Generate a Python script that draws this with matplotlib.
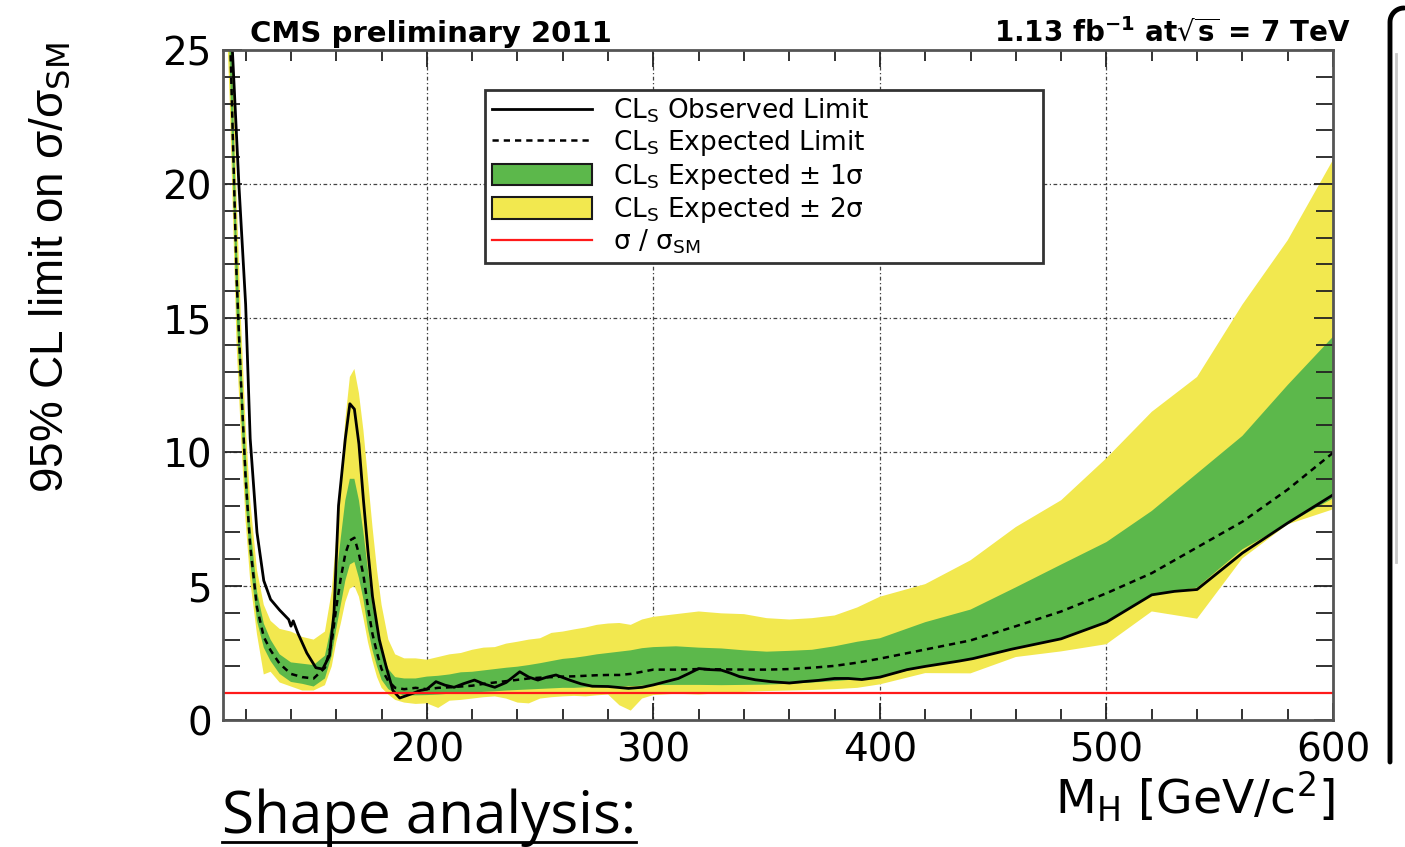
import numpy as np
import matplotlib.pyplot as plt
from matplotlib.lines import Line2D
from matplotlib.patches import Patch

# Higgs mass points (GeV) for the expected limit and its bands
mass = [110, 113, 116, 118, 120, 122, 125, 128, 131, 135, 140, 145, 150, 155, 158,
        160, 162, 164, 166, 168, 170, 172, 174, 176, 178, 180, 183, 186, 190, 195,
        200, 205, 210, 215, 220, 225, 230, 235, 240, 245, 250, 255, 260, 265, 270,
        275, 280, 285, 290, 295, 300, 310, 320, 330, 340, 350, 360, 370, 380, 390,
        400, 420, 440, 460, 480, 500, 520, 540, 560, 580, 600]

expected = [34, 26, 16.5, 12.5, 9.0, 6.5, 4.2, 3.1, 2.6, 2.1, 1.72, 1.6, 1.55, 1.95, 2.9,
            4.2, 5.3, 6.2, 6.7, 6.8, 6.2, 5.4, 4.2, 3.2, 2.5, 1.9, 1.45, 1.2, 1.15, 1.2,
            1.15, 1.2, 1.22, 1.25, 1.28, 1.35, 1.4, 1.45, 1.5, 1.55, 1.58, 1.6, 1.62, 1.63, 1.65,
            1.67, 1.68, 1.68, 1.72, 1.8, 1.88, 1.88, 1.9, 1.89, 1.88, 1.88, 1.9, 1.95, 2.02, 2.14,
            2.29, 2.63, 2.97, 3.5, 4.05, 4.73, 5.48, 6.44, 7.4, 8.6, 9.97]

one_sig_hi = [36, 28, 18, 13.5, 10, 7.3, 4.8, 3.6, 3.0, 2.45, 2.15, 2.1, 2.05, 2.4, 3.6,
              5.3, 6.8, 8.2, 9.0, 9.0, 8.2, 7.0, 5.6, 4.3, 3.4, 2.6, 1.9, 1.6, 1.55, 1.55,
              1.62, 1.65, 1.7, 1.78, 1.8, 1.85, 1.9, 1.95, 1.99, 2.05, 2.12, 2.2, 2.28, 2.32, 2.38,
              2.45, 2.5, 2.55, 2.6, 2.68, 2.72, 2.75, 2.7, 2.67, 2.6, 2.55, 2.58, 2.62, 2.75, 2.92,
              3.05, 3.65, 4.12, 4.95, 5.8, 6.64, 7.8, 9.2, 10.6, 12.5, 14.3]

one_sig_lo = [32, 24.5, 15.2, 11.5, 8.2, 5.9, 3.7, 2.7, 2.2, 1.72, 1.42, 1.35, 1.25, 1.55, 2.4,
              3.4, 4.3, 5.2, 5.8, 5.9, 5.3, 4.5, 3.4, 2.6, 2.0, 1.5, 1.15, 1.0, 0.92, 0.92,
              0.93, 0.95, 0.98, 1.0, 1.02, 1.05, 1.07, 1.1, 1.12, 1.14, 1.16, 1.18, 1.2, 1.2, 1.22,
              1.23, 1.24, 1.24, 1.26, 1.28, 1.3, 1.31, 1.31, 1.3, 1.31, 1.32, 1.35, 1.4, 1.45, 1.52,
              1.6, 2.0, 2.29, 2.69, 3.03, 3.65, 4.67, 4.94, 6.37, 7.32, 8.27]

two_sig_hi = [38, 30, 19.5, 14.8, 11, 8.2, 5.6, 4.3, 3.7, 3.4, 3.3, 3.1, 3.0, 3.3, 4.8,
              6.8, 9.0, 11.2, 12.8, 13.1, 12.2, 10.8, 9.0, 7.2, 5.6, 4.3, 3.0, 2.45, 2.3, 2.3,
              2.25, 2.35, 2.45, 2.5, 2.62, 2.7, 2.72, 2.85, 2.92, 3.0, 3.05, 3.25, 3.3, 3.38, 3.45,
              3.55, 3.6, 3.62, 3.55, 3.75, 3.85, 3.95, 4.05, 3.98, 3.95, 3.8, 3.75, 3.8, 3.9, 4.2,
              4.6, 5.07, 5.96, 7.2, 8.2, 9.77, 11.5, 12.8, 15.5, 17.9, 20.9]

two_sig_lo = [30, 23, 14, 10.5, 7.4, 5.2, 3.2, 1.7, 1.8, 1.4, 1.25, 1.1, 1.1, 1.3, 2.0,
              2.9, 3.6, 4.4, 4.9, 5.0, 4.6, 3.8, 2.9, 2.2, 1.6, 1.2, 0.95, 0.75, 0.65, 0.6,
              0.62, 0.45, 0.72, 0.75, 0.8, 0.85, 0.88, 0.8, 0.65, 0.62, 0.8, 0.85, 0.88, 0.9, 0.88,
              0.92, 0.95, 0.55, 0.35, 0.8, 0.93, 0.98, 0.95, 1.0, 1.05, 1.08, 1.1, 1.12, 1.15, 1.2,
              1.33, 1.75, 1.74, 2.35, 2.56, 2.83, 4.05, 3.78, 6.03, 7.3, 7.86]

# observed limit
mass_obs = [110, 113, 115, 117, 120, 122, 125, 128, 131, 135, 139, 140, 141, 143, 147,
            151, 154, 157, 159, 161, 164, 166, 168, 170, 172, 174, 176, 179, 182, 185,
            188, 190, 194, 197, 200, 204, 208, 212, 216, 221, 225, 230, 235, 241, 245,
            249, 253, 257, 263, 268, 273, 280, 289, 295, 300, 305, 311, 316, 320, 325,
            330, 334, 338, 345, 352, 360, 366, 373, 380, 386, 392, 400, 412, 420, 435,
            441, 458, 480, 500, 520, 530, 540, 560, 580, 600]

observed = [32, 27, 23.5, 20, 15.5, 10.5, 7.0, 5.2, 4.5, 4.1, 3.75, 3.5, 3.7, 3.25, 2.5,
            1.95, 1.9, 2.4, 4.0, 8.0, 10.5, 11.8, 11.6, 10.3, 8.2, 6.3, 4.6, 3.0, 2.0, 1.1,
            0.82, 0.88, 1.0, 1.1, 1.15, 1.43, 1.3, 1.22, 1.35, 1.49, 1.35, 1.22, 1.4, 1.8, 1.6,
            1.49, 1.6, 1.68, 1.49, 1.35, 1.26, 1.25, 1.18, 1.22, 1.31, 1.42, 1.55, 1.75, 1.92, 1.88,
            1.86, 1.75, 1.62, 1.5, 1.43, 1.38, 1.43, 1.48, 1.55, 1.55, 1.51, 1.6, 1.88, 2.0, 2.2,
            2.29, 2.64, 3.03, 3.65, 4.67, 4.8, 4.87, 6.23, 7.35, 8.4]

sm_ratio = 1.0
x_major = [200, 300, 400, 500, 600]
y_major = [0, 5, 10, 15, 20, 25]

green = '#5cb84b'
yellow = '#f2e84f'

W, H = 1405, 847
fig = plt.figure(figsize=(W / 100, H / 100), dpi=100)
ax = fig.add_axes([223 / W, 127 / H, 1110 / W, 670 / H])

ax.fill_between(mass, two_sig_lo, two_sig_hi, color=yellow, lw=0, zorder=1)
ax.fill_between(mass, one_sig_lo, one_sig_hi, color=green, lw=0, zorder=1.1)
ax.plot(mass, expected, color='black', lw=1.8, ls=(0, (2.5, 2)), zorder=2)
ax.plot(mass_obs, observed, color='black', lw=2.0, zorder=2.1)
ax.axhline(sm_ratio, color='#ff1a1a', lw=1.6, zorder=2.2)

# dash-dot grid under the bands
for xv in x_major[:-1]:
    ax.axvline(xv, color='#444444', lw=0.9, ls=(0, (3, 2, 1, 2)), zorder=0.5)
for yv in y_major[1:-1]:
    ax.axhline(yv, color='#444444', lw=0.9, ls=(0, (3, 2, 1, 2)), zorder=0.5)

ax.set_xlim(110, 600)
ax.set_ylim(0, 25)
ax.set_xticks(x_major)
ax.set_xticks(np.arange(120, 600, 20), minor=True)
ax.set_yticks(y_major)
ax.set_yticks(np.arange(0, 26, 1), minor=True)
ax.tick_params(which='both', direction='in', top=True, right=True,
               color='#222222', width=1.3)
ax.tick_params(axis='x', which='major', length=12, pad=8)
ax.tick_params(axis='x', which='minor', length=8)
ax.tick_params(axis='y', which='major', length=14, pad=8)
ax.tick_params(axis='y', which='minor', length=12)
ax.tick_params(labelsize=28)
for sp in ax.spines.values():
    sp.set_color('#555555')
    sp.set_linewidth(2)

handles = [
    Line2D([], [], color='black', lw=2.0),
    Line2D([], [], color='black', lw=1.8, ls=(0, (2.5, 2))),
    Patch(facecolor=green, edgecolor='#1a1a1a', lw=1.5),
    Patch(facecolor=yellow, edgecolor='#1a1a1a', lw=1.5),
    Line2D([], [], color='#ff1a1a', lw=1.6),
]
labels = [
    r'CL$_{\mathrm{S}}$ Observed Limit',
    r'CL$_{\mathrm{S}}$ Expected Limit',
    r'CL$_{\mathrm{S}}$ Expected ± 1σ',
    r'CL$_{\mathrm{S}}$ Expected ± 2σ',
    r'σ / σ$_{\mathrm{SM}}$',
]
leg = ax.legend(handles, labels, loc='upper left', bbox_to_anchor=(0.236, 0.94, 0.503, 0.0),
                mode='expand', fontsize=19, frameon=True, fancybox=False, framealpha=1,
                edgecolor='#333333', handlelength=3.8, handleheight=0.9,
                handletextpad=0.8, labelspacing=0.12, borderpad=0.25,
                borderaxespad=0)
leg.get_frame().set_linewidth(2)

fig.text(250 / W, 1 - 42 / H, 'CMS preliminary 2011', fontsize=21,
         weight='bold', ha='left', va='baseline')
fig.text(1350 / W, 1 - 42 / H,
         r'1.13 fb$^{\mathbf{-1}}$ at$\sqrt{\mathbf{s}}$ = 7 TeV',
         fontsize=20, weight='bold', ha='right', va='baseline')

fig.text(50 / W, 1 - 268 / H, r'95% CL limit on σ/σ$_{\mathrm{SM}}$',
         family=['Liberation Sans', 'DejaVu Sans'], fontsize=33,
         rotation=90, ha='center', va='center')
fig.text(1335 / W, 1 - 814 / H, r'M$_{\mathrm{H}}$ [GeV/c$^{2}$]', fontsize=34,
         ha='right', va='baseline')

title = fig.text(222 / W, 1 - 833 / H, 'Shape analysis:', family=['Open Sans', 'DejaVu Sans'],
                 fontsize=42, ha='left', va='baseline')
fig.canvas.draw()
bb = title.get_window_extent()
fig.add_artist(Line2D([bb.x0 / W, bb.x1 / W], [1 - 842 / H, 1 - 842 / H],
                      transform=fig.transFigure, color='black', lw=2))

# bracket on the right edge of the slide
t = np.linspace(np.pi, np.pi / 2, 12)
bx = np.concatenate([[1390, 1390], 1404 + 14 * np.cos(t)])
by = np.concatenate([[762, 22], 22 - 14 * np.sin(t)])
fig.add_artist(Line2D(bx / W, 1 - by / H, transform=fig.transFigure,
                      color='black', lw=3.5, solid_capstyle='round'))
fig.add_artist(Line2D([1396 / W, 1396 / W], [1 - 54 / H, 1 - 562 / H],
                      transform=fig.transFigure, color='#c8c8c8', lw=2))

fig.savefig('out.png', dpi=100)
